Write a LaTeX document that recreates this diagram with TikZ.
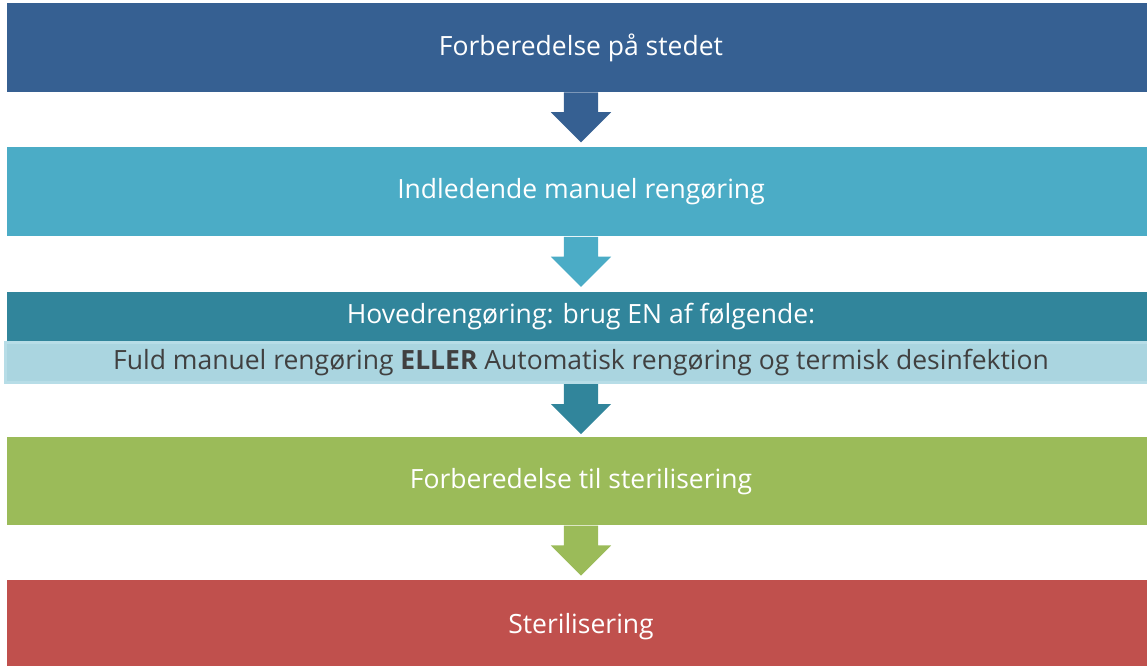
\documentclass[tikz,border=0pt]{standalone}
\usepackage{fontspec}
\setmainfont{Open Sans}
\usepackage{tikz}
\usetikzlibrary{shapes.arrows, positioning}
\definecolor{prepblue}{RGB}{54, 96, 146}
\definecolor{initcyan}{RGB}{75, 172, 198}
\definecolor{mainteal}{RGB}{49, 133, 155}
\definecolor{mainlight}{RGB}{170, 213, 224}
\definecolor{mainedge}{RGB}{183, 221, 231}
\definecolor{sterigreen}{RGB}{155, 187, 89}
\definecolor{sterired}{RGB}{192, 80, 77}
\definecolor{darktext}{RGB}{64, 64, 64}

\begin{document}
\begin{tikzpicture}[
  x=1pt, y=-1pt,
  node distance=55pt,
  stepbox/.style={rectangle, minimum width=1148pt, minimum height=89pt, inner sep=0pt, text=white, font=\fontsize{26.5}{32}\selectfont},
  flowarrow/.style={single arrow, minimum height=50pt, single arrow head extend=13pt, inner xsep=0pt, inner ysep=17pt, rotate=-90, anchor=tail}
]
  \useasboundingbox (0,0) rectangle (1147,665);
  \clip (0,0) rectangle (1147,665);

  \node[stepbox, fill=prepblue] (prep) at (581,47.5) {Forberedelse på stedet};
  \node[stepbox, fill=initcyan, below=of prep] (initial) {Indledende manuel rengøring};
  \node[stepbox, fill=mainteal, minimum height=49pt, below=of initial] (main) {Hovedrengøring: brug EN af følgende:};
  \node[stepbox, fill=mainlight, draw=mainedge, line width=3pt, minimum width=1151pt, minimum height=40pt, text=darktext, below=0pt of main] (choice)
    {Fuld manuel rengøring \textbf{ELLER} Automatisk rengøring og termisk desinfektion};
  \node[stepbox, fill=sterigreen, minimum height=88pt, below=53pt of choice] (pack) {Forberedelse til sterilisering};
  \node[stepbox, fill=sterired, minimum height=94pt, below=54pt of pack] (steril) {Sterilisering};

  % arrows between the steps
  \node[flowarrow, fill=prepblue] (a1) at (prep.south) {};
  \node[flowarrow, fill=initcyan] (a2) at (initial.south) {};
  \node[flowarrow, fill=mainteal] (a3) at (choice.south) {};
  \node[flowarrow, fill=sterigreen] (a4) at (pack.south) {};
\end{tikzpicture}
\end{document}
